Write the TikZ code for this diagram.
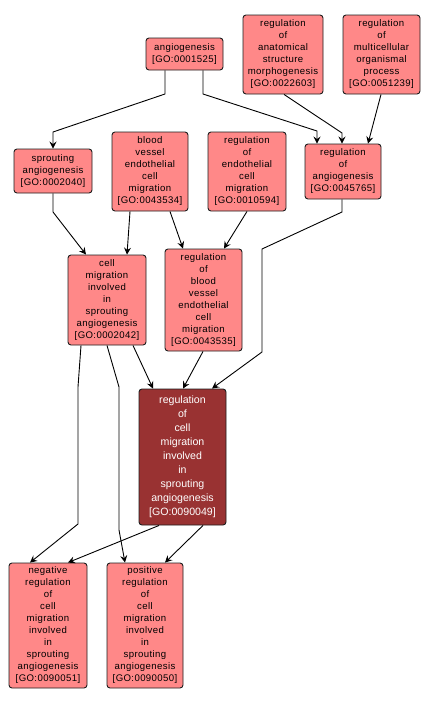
\documentclass[tikz,border=0pt]{standalone}
\usepackage{fontspec}
\setmainfont{Liberation Sans}
\newfontfamily\spacedfont[LetterSpace=4]{Liberation Sans}
\usetikzlibrary{arrows.meta}
\definecolor{pinkfill}{RGB}{255,136,136}
\definecolor{mainfill}{RGB}{153,50,50}
\definecolor{edgeclr}{RGB}{30,30,30}
\newcommand{\goid}[1]{\relax[GO:#1]}
\tikzset{
  gobox/.style={draw=edgeclr, line width=0.9pt, rounded corners=3pt, fill=pinkfill,
    align=center, inner sep=0pt, font=\spacedfont\fontsize{9.6}{12}\selectfont, text=black},
  mainbox/.style={gobox, fill=mainfill, text=white, font=\rmfamily\fontsize{10.6}{14}\selectfont},
  arr/.style={draw=black, line width=0.9pt, -{Stealth[length=7pt,width=7pt,inset=2.5pt]}},
}
\begin{document}
\begin{tikzpicture}[x=1pt,y=-1pt]
\useasboundingbox[fill=white] (0,0) rectangle (430,705);
\node[gobox, minimum width=77pt, minimum height=32pt] (ang) at (184.5,54) {angiogenesis\\\goid{0001525}};
\node[gobox, minimum width=80pt, minimum height=79pt] (anat) at (283,54.5) {regulation\\of\\anatomical\\structure\\morphogenesis\\\goid{0022603}};
\node[gobox, minimum width=77pt, minimum height=79pt] (multi) at (381.5,54.5) {regulation\\of\\multicellular\\organismal\\process\\\goid{0051239}};
\node[gobox, minimum width=78pt, minimum height=44pt] (sprout) at (53,171) {sprouting\\angiogenesis\\\goid{0002040}};
\node[gobox, minimum width=76pt, minimum height=79pt] (bvec) at (150,171.5) {blood\\vessel\\endothelial\\cell\\migration\\\goid{0043534}};
\node[gobox, minimum width=78pt, minimum height=79pt] (regec) at (247,171.5) {regulation\\of\\endothelial\\cell\\migration\\\goid{0010594}};
\node[gobox, minimum width=76pt, minimum height=55pt] (regang) at (343,171.5) {regulation\\of\\angiogenesis\\\goid{0045765}};
\node[gobox, minimum width=78pt, minimum height=90pt] (cmig) at (107,300) {cell\\migration\\involved\\in\\sprouting\\angiogenesis\\\goid{0002042}};
\node[gobox, minimum width=77pt, minimum height=102pt] (regbvec) at (203.5,300) {regulation\\of\\blood\\vessel\\endothelial\\cell\\migration\\\goid{0043535}};
\node[mainbox, minimum width=87pt, minimum height=136pt] (main) at (182.5,457) {regulation\\of\\cell\\migration\\involved\\in\\sprouting\\angiogenesis\\\goid{0090049}};
\node[gobox, minimum width=78pt, minimum height=125pt] (neg) at (48,625.5) {negative\\regulation\\of\\cell\\migration\\involved\\in\\sprouting\\angiogenesis\\\goid{0090051}};
\node[gobox, minimum width=76pt, minimum height=125pt] (pos) at (145,625.5) {positive\\regulation\\of\\cell\\migration\\involved\\in\\sprouting\\angiogenesis\\\goid{0090050}};

\draw[arr] (ang.south -| 165,0) -- (165,94) -- (53,132) -- (sprout.north);
\draw[arr] (ang.south -| 203,0) -- (203,94) -- (317,131) -- (regang.north -| 317,0);
\draw[arr] (anat.south -| 284,0) -- (342,133) -- (regang.north -| 342,0);
\draw[arr] (multi.south -| 381,0) -- (regang.north -| 368,0);
\draw[arr] (sprout.south) -- (53,212) -- (cmig.north -| 86,0);
\draw[arr] (bvec.south -| 130,0) -- (cmig.north -| 127,0);
\draw[arr] (bvec.south -| 170,0) -- (regbvec.north -| 183,0);
\draw[arr] (regec.south -| 247,0) -- (regbvec.north -| 224,0);
\draw[arr] (regang.south -| 342,0) -- (342,212) -- (262,249) -- (262,352) -- (main.north -| 212,0);
\draw[arr] (cmig.south -| 133,0) -- (main.north -| 153,0);
\draw[arr] (regbvec.south -| 203,0) -- (main.north -| 183,0);
\draw[arr] (cmig.south -| 81,0) -- (78,387) -- (78,524) -- (neg.north -| 30,0);
\draw[arr] (cmig.south -| 107,0) -- (119,387) -- (119,530) -- (pos.north -| 125,0);
\draw[arr] (main.south -| 159,0) -- (neg.north -| 68,0);
\draw[arr] (main.south -| 203,0) -- (pos.north -| 165,0);
\end{tikzpicture}
\end{document}
